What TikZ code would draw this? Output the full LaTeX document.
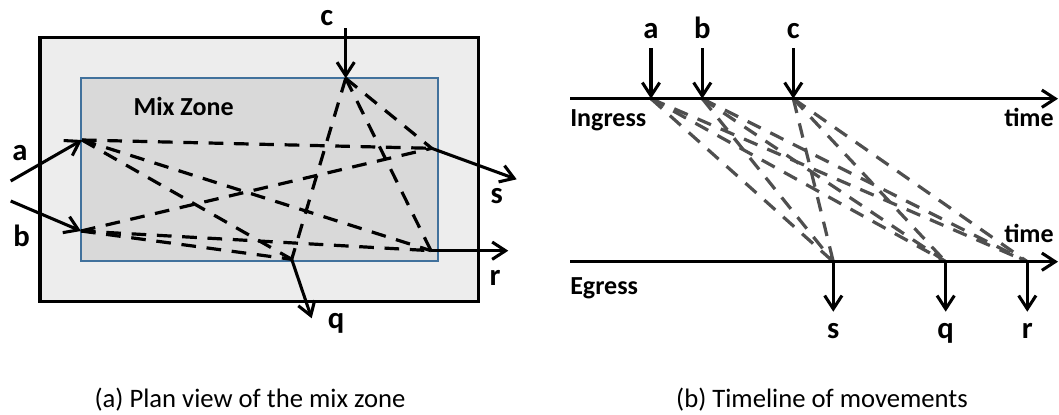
\documentclass[tikz,border=0pt]{standalone}
\usepackage{fontspec}
\setmainfont{Carlito}
\usetikzlibrary{arrows.meta}
\definecolor{zoneblue}{HTML}{41719C}
\definecolor{zonefill}{HTML}{D9D9D9}
\definecolor{outerfill}{HTML}{EDEDED}
\definecolor{dashgray}{HTML}{4F4F4F}
\begin{document}
\begin{tikzpicture}[x=0.75pt,y=-0.75pt,
  lbl/.style={font=\fontsize{19.5}{23}\selectfont\bfseries, inner sep=0pt, anchor=base},
  letter/.style={font=\fontsize{23}{27}\selectfont\bfseries, inner sep=0pt, anchor=base},
  captext/.style={font=\fontsize{20}{24}\selectfont, inner sep=0pt, anchor=base},
  flow/.style={line width=2.3pt, -{Straight Barb[length=10pt,width=13pt]}},
  mixline/.style={line width=2.4pt, dash pattern=on 11pt off 8pt},
  tline/.style={mixline, dashgray}]
\useasboundingbox (0,0) rectangle (1059,414);

% ---------- (a) plan view ----------
\draw[line width=2.3pt, fill=outerfill] (40,37.3) rectangle (478.3,301.7);
\draw[zoneblue, line width=1.3pt, fill=zonefill] (80.7,78.3) rectangle (437.7,261.3);
\node[lbl, anchor=base west] (mix) at (133.3,115) {Mix Zone};

\coordinate (A) at (82,140);
\coordinate (B) at (81,231);
\coordinate (C) at (345.7,78.3);
\coordinate (S) at (431.7,148.3);
\coordinate (R) at (431,250.7);
\coordinate (Q) at (291.7,259.3);
\coordinate (a0) at (10.7,181);
\coordinate (b0) at (10.7,201);
\coordinate (c0) at (345.7,28.3);
\coordinate (s1) at (516.7,179.3);
\coordinate (r1) at (508.3,250.7);
\coordinate (q1) at (311.7,318.3);

\foreach \i in {A,B,C}{
  \foreach \o in {S,R,Q}{
    \draw[mixline] (\i) -- (\o);
  }
}
\draw[flow] (a0) -- (A);
\draw[flow] (b0) -- (B);
\draw[flow] (c0) -- (C);
\draw[flow] (S) -- (s1);
\draw[flow] (R) -- (r1);
\draw[flow] (Q) -- (q1);

\node[letter] (la) at (20,160) {a};
\node[letter] (lb) at (21.7,246) {b};
\node[letter] (lc) at (326.7,25) {c};
\node[letter] (ls) at (496.7,203.3) {s};
\node[letter] (lr) at (495,285) {r};
\node[letter] (lq) at (336,328.3) {q};

\node[captext] (capa) at (250,407) {(a) Plan view of the mix zone};

% ---------- (b) timeline ----------
\coordinate (ia) at (651,98.7);
\coordinate (ib) at (702.3,98.7);
\coordinate (ic) at (793.3,98.7);
\coordinate (es) at (833.3,261.7);
\coordinate (eq) at (945.7,261.7);
\coordinate (er) at (1027.3,261.7);
\coordinate (in0) at (570,98.7);
\coordinate (in1) at (1058,98.7);
\coordinate (eg0) at (570,261.7);
\coordinate (eg1) at (1058,261.7);
\coordinate (ta) at (651,48.3);
\coordinate (tb) at (702.3,48.3);
\coordinate (tc) at (793.3,48.3);
\coordinate (bs) at (833.3,311.7);
\coordinate (bq) at (945.7,311.7);
\coordinate (br) at (1027.3,311.7);

\foreach \i in {ia,ib,ic}{
  \foreach \o in {es,eq,er}{
    \draw[tline] (\i) -- (\o);
  }
}
\draw[flow] (in0) -- (in1);
\draw[flow] (eg0) -- (eg1);
\draw[flow] (ta) -- (ia);
\draw[flow] (tb) -- (ib);
\draw[flow] (tc) -- (ic);
\draw[flow] (es) -- (bs);
\draw[flow] (eq) -- (bq);
\draw[flow] (er) -- (br);

\node[letter] (tla) at (651,38.3) {a};
\node[letter] (tlb) at (702.3,38.3) {b};
\node[letter] (tlc) at (793.3,38.3) {c};
\node[lbl, anchor=base west] (ingress) at (570,126.7) {Ingress};
\node[lbl, anchor=base east] (time1) at (1054,126.7) {time};
\node[lbl, anchor=base east] (time2) at (1054,242.7) {time};
\node[lbl, anchor=base west] (egress) at (570,294.3) {Egress};
\node[letter] (tls) at (833.3,338.3) {s};
\node[letter] (tlq) at (945.7,338.3) {q};
\node[letter] (tlr) at (1027.3,338.3) {r};

\node[captext] (capb) at (822,407) {(b) Timeline of movements};
\end{tikzpicture}
\end{document}
